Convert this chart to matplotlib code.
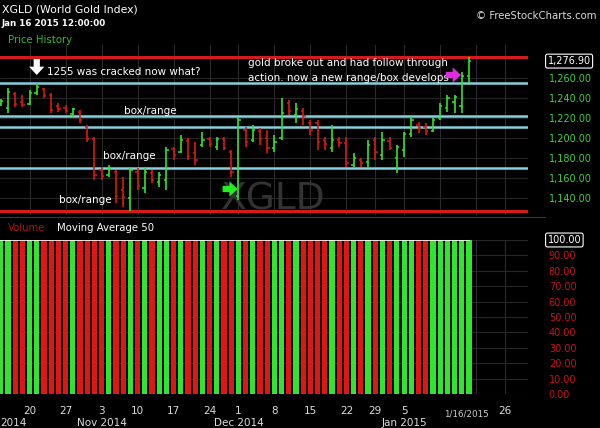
import matplotlib
matplotlib.use("Agg")
import matplotlib.pyplot as plt
import matplotlib.transforms as mtransforms
import pandas as pd

# trading calendar (exchange holidays removed)
HOLIDAYS = ["2014-11-27", "2014-12-25", "2015-01-01", "2015-01-19"]
CALENDAR = pd.bdate_range("2014-10-14", "2015-01-30", freq="C", holidays=HOLIDAYS)
N_BARS = 66  # Oct 14 2014 .. Jan 16 2015

opens = [1234, 1230, 1244, 1236, 1234, 1245, 1249, 1243, 1232, 1230, 1224, 1226, 1211, 1199,
         1168, 1163, 1166, 1148, 1140, 1166, 1150, 1165, 1156, 1158, 1189, 1186, 1197, 1185,
         1193, 1199, 1191, 1199, 1186, 1142, 1208, 1198, 1207, 1200, 1190, 1200, 1235, 1223,
         1227, 1215, 1215, 1198, 1190, 1198, 1195, 1173, 1178, 1176, 1198, 1183, 1197, 1180,
         1188, 1204, 1213, 1211, 1207, 1220, 1230, 1236, 1232, 1262]
highs = [1239, 1250, 1246, 1243, 1248, 1255, 1250, 1245, 1235, 1233, 1230, 1228, 1213, 1201,
         1171, 1173, 1168, 1161, 1171, 1170, 1171, 1168, 1166, 1191, 1191, 1203, 1200, 1196,
         1206, 1201, 1201, 1201, 1188, 1221, 1211, 1213, 1210, 1208, 1203, 1240, 1238, 1235,
         1230, 1218, 1218, 1201, 1213, 1201, 1201, 1185, 1180, 1198, 1201, 1206, 1201, 1193,
         1206, 1223, 1216, 1215, 1221, 1235, 1243, 1243, 1266, 1281]
lows = [1232, 1225, 1231, 1231, 1233, 1243, 1240, 1225, 1226, 1225, 1221, 1215, 1196, 1158,
        1158, 1161, 1135, 1131, 1127, 1148, 1145, 1155, 1151, 1148, 1178, 1185, 1178, 1173,
        1191, 1191, 1188, 1188, 1161, 1138, 1191, 1196, 1193, 1185, 1186, 1198, 1223, 1215,
        1213, 1203, 1188, 1188, 1186, 1191, 1171, 1171, 1171, 1171, 1178, 1178, 1188, 1165,
        1181, 1201, 1205, 1203, 1206, 1218, 1226, 1225, 1225, 1255]
closes = [1237, 1246, 1234, 1233, 1245, 1251, 1242, 1228, 1229, 1227, 1229, 1218, 1199, 1163,
          1162, 1170, 1142, 1141, 1168, 1152, 1166, 1158, 1163, 1188, 1183, 1198, 1182, 1178,
          1198, 1194, 1199, 1190, 1166, 1218, 1196, 1208, 1199, 1190, 1196, 1225, 1227, 1229,
          1222, 1208, 1196, 1194, 1198, 1195, 1175, 1180, 1175, 1193, 1186, 1198, 1190, 1191,
          1204, 1218, 1210, 1207, 1218, 1232, 1240, 1241, 1262, 1276.9]
volume_pct = [100] * N_BARS

support_lines = [1255, 1222, 1211, 1170]
limit_lines = [1281, 1127]
price_ticks = [1140, 1160, 1180, 1200, 1220, 1240, 1260]
volume_ticks = [0, 10, 20, 30, 40, 50, 60, 70, 80, 90]

week_ticks = ["2014-10-20", "2014-10-27", "2014-11-03", "2014-11-10", "2014-11-17",
              "2014-11-24", "2014-12-01", "2014-12-08", "2014-12-15", "2014-12-22",
              "2014-12-29", "2015-01-05", "2015-01-12", "2015-01-20", "2015-01-26"]
week_labels = ["20", "27", "3", "10", "17", "24", "1", "8", "15", "22", "29", "5", "", "", "26"]
month_ticks = ["2014-11-03", "2014-12-01", "2015-01-05"]
month_labels = ["Nov 2014", "Dec 2014", "Jan 2015"]

GREEN = "#2ee62e"
RED = "#e01515"
CYAN = "#86cfdc"
W, H = 600, 428


def pos(date):
    return CALENDAR.get_loc(pd.Timestamp(date))


def px_box(left, top, right, bottom):
    return [left / W, 1 - bottom / H, (right - left) / W, (bottom - top) / H]


def block_arrow(ax, start, end, color):
    ax.annotate("", xy=end, xytext=start,
                arrowprops=dict(width=4.5, headwidth=11, headlength=6, color=color, lw=0))


fig = plt.figure(figsize=(6, 4.28), dpi=100, facecolor="black")
ax = fig.add_axes(px_box(0, 45, 528, 215), facecolor="black")
axv = fig.add_axes(px_box(0, 240, 528, 394), facecolor="black", sharex=ax)

x = list(range(N_BARS))
up = [c >= o for o, c in zip(opens, closes)]
colors = [GREEN if u else RED for u in up]

# grid
for a in (ax, axv):
    for d in week_ticks:
        a.axvline(pos(d), color="#2b2b2b", lw=0.8, zorder=0)
    for s in a.spines.values():
        s.set_visible(False)
for p in [1140, 1160, 1180, 1200, 1220, 1240, 1260, 1280]:
    ax.axhline(p, color="#262626", lw=0.8, zorder=0)
for v in range(0, 101, 10):
    axv.axhline(v, color="#262626", lw=0.8, zorder=0)

ax.text(37.8, 1138, "XGLD", color="#333333", fontsize=27, ha="center", va="center", zorder=0)

# OHLC bars
ax.vlines(x, lows, highs, colors=colors, lw=1.2, zorder=3)
ax.hlines(opens, [i - 0.32 for i in x], x, colors=colors, lw=1.1, zorder=3)
ax.hlines(closes, x, [i + 0.32 for i in x], colors=colors, lw=1.1, zorder=3)

for p in support_lines:
    ax.axhline(p, color=CYAN, lw=1.8, zorder=2)
for p in limit_lines:
    ax.axhline(p, color="#d41a1a", lw=2.2, zorder=2)

ax.set_xlim(-0.1, 73.2)
ax.set_ylim(1123, 1293)
ax.set_xticks([])
ax.yaxis.tick_right()
ax.set_yticks(price_ticks)
ax.set_yticklabels([f"{p:,.2f}" for p in price_ticks])
ax.tick_params(axis="y", length=0, pad=15, labelsize=7, labelcolor="#3fcf3f")
ax.text(1.037, closes[-1], f"{closes[-1]:,.2f}", transform=ax.get_yaxis_transform(),
        color="white", fontsize=7, va="center", ha="left",
        bbox=dict(boxstyle="round,pad=0.2", fc="black", ec="white", lw=0.8))

# annotations
txt = dict(color="white", fontsize=7.5, va="center")
ax.text(6.4, 1266, "1255 was cracked now what?", **txt)
ax.text(20.8, 1227, "box/range", ha="center", **txt)
ax.text(17.8, 1182, "box/range", ha="center", **txt)
ax.text(11.8, 1138, "box/range", ha="center", **txt)
ax.text(34.3, 1275, "gold broke out and had follow through", **txt)
ax.text(34.3, 1260, "action. now a new range/box develops", **txt)
block_arrow(ax, (5, 1279), (5, 1263), "white")
block_arrow(ax, (61.8, 1263), (63.9, 1263), "#e02ce0")
block_arrow(ax, (30.8, 1149), (32.9, 1149), "#22ee22")

# volume panel
axv.bar(x, volume_pct, width=0.72, color=colors, zorder=2)
axv.plot(x, volume_pct, color="white", lw=1.2, zorder=3)
axv.set_ylim(0, 100)
axv.yaxis.tick_right()
axv.set_yticks(volume_ticks)
axv.set_yticklabels([f"{v:.2f}" for v in volume_ticks])
axv.tick_params(axis="y", length=0, pad=15, labelsize=7, labelcolor="#c81414")
axv.tick_params(axis="x", length=0, labelbottom=False)
axv.text(1.037, 100, "100.00", transform=axv.get_yaxis_transform(), color="white",
         fontsize=7, va="center", ha="left",
         bbox=dict(boxstyle="round,pad=0.2", fc="black", ec="white", lw=0.8))

# date labels
tr = mtransforms.blended_transform_factory(axv.transData, fig.transFigure)
for d, lab in zip(week_ticks, week_labels):
    fig.text(pos(d), 1 - 411 / H, lab, transform=tr, color="#dddddd", fontsize=7.5,
             ha="center", va="center")
for d, lab in zip(month_ticks, month_labels):
    fig.text(pos(d), 1 - 423 / H, lab, transform=tr, color="#dddddd", fontsize=7.5,
             ha="center", va="center")
# October label sits mostly off the left edge in the original; only the year shows
fig.text(0.5 / W, 1 - 423 / H, "2014", color="#dddddd", fontsize=7.5, ha="left", va="center")
fig.text(N_BARS - 1.4, 1 - 414 / H, "1/16/2015", transform=tr, color="#cccccc",
         fontsize=6.3, ha="center", va="center")

# header texts
fig.text(2 / W, 1 - 9 / H, "XGLD (World Gold Index)", color="white", fontsize=7.8, va="center")
fig.text(2 / W, 1 - 24 / H, "Jan 16 2015 12:00:00", color="white", fontsize=6.3,
         fontweight="bold", va="center")
fig.text(8 / W, 1 - 40 / H, "Price History", color="#2fbf2f", fontsize=7.3, va="center")
fig.text(596 / W, 1 - 16 / H, "© FreeStockCharts.com", color="#dddddd", fontsize=7.3,
         ha="right", va="center")
fig.text(8 / W, 1 - 228 / H, "Volume", color="#b01010", fontsize=7.3, va="center")
fig.text(57 / W, 1 - 228 / H, "Moving Average 50", color="white", fontsize=7.3, va="center")

fig.add_artist(plt.Line2D([0, 545 / W], [1 - 217 / H, 1 - 217 / H], color="#3a3a3a", lw=0.8))

fig.savefig("out.png", dpi=100, facecolor="black")
